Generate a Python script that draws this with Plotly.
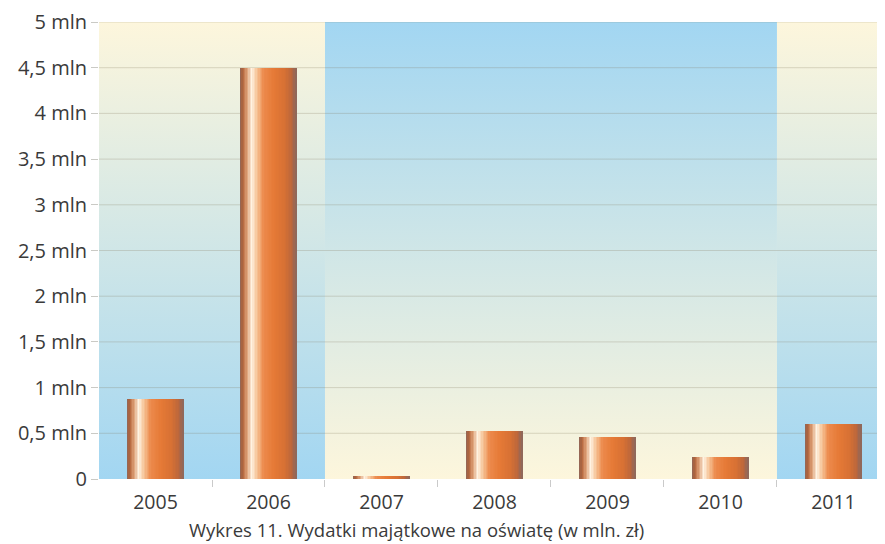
import plotly.graph_objects as go

# ---- data ----
years = ["2005", "2006", "2007", "2008", "2009", "2010", "2011"]
values = [0.875, 4.5, 0.035, 0.53, 0.455, 0.245, 0.60]   # mln zł
y_tick_vals = [0, 0.5, 1, 1.5, 2, 2.5, 3, 3.5, 4, 4.5, 5]
y_tick_text = ["0", "0,5 mln", "1 mln", "1,5 mln", "2 mln", "2,5 mln",
               "3 mln", "3,5 mln", "4 mln", "4,5 mln", "5 mln"]
caption = "Wykres 11. Wydatki majątkowe na oświatę (w mln. zł)"

# background bands: (first category, last category, style)
bands = [("2005", "2006", "up"), ("2007", "2010", "down"), ("2011", "2011", "up")]

# ---- style ----
FONT = "Open Sans"
TXT = "#3a3a3a"
GRID = "rgba(130,120,90,0.25)"
YELLOW = "#fdf6dc"
BLUE = "#a2d6f2"
BAR_W = 0.5
N_SLICES = 40
bar_stops = [
    (0.00, (140, 104, 92)),
    (0.05, (178, 98, 58)),
    (0.13, (222, 160, 118)),
    (0.21, (255, 244, 228)),
    (0.30, (246, 196, 152)),
    (0.42, (236, 138, 76)),
    (0.60, (230, 122, 54)),
    (0.80, (214, 112, 52)),
    (0.92, (186, 102, 60)),
    (1.00, (138, 104, 96)),
]


def grad_color(t):
    for (t0, c0), (t1, c1) in zip(bar_stops[:-1], bar_stops[1:]):
        if t0 <= t <= t1:
            f = (t - t0) / (t1 - t0) if t1 > t0 else 0
            c = [round(a + (b - a) * f) for a, b in zip(c0, c1)]
            return "rgb(%d,%d,%d)" % tuple(c)
    return "rgb(%d,%d,%d)" % bar_stops[-1][1]


xs = list(range(len(years)))
ymax = y_tick_vals[-1]

fig = go.Figure()

# background gradient bands
for first, last, kind in bands:
    x0 = years.index(first) - 0.5
    x1 = years.index(last) + 0.5
    if kind == "up":
        cs = [[0, BLUE], [1, YELLOW]]
    else:
        cs = [[0, YELLOW], [1, BLUE]]
    fig.add_trace(go.Scatter(
        x=[x0, x1, x1, x0, x0], y=[0, 0, ymax, ymax, 0],
        mode="lines", line=dict(width=0), fill="toself",
        fillgradient=dict(type="vertical", colorscale=cs, start=0, stop=ymax),
        hoverinfo="skip", showlegend=False))

# gridlines (drawn over backgrounds, below bars)
gx, gy = [], []
for v in y_tick_vals[1:]:
    gx += [-0.5, len(years) - 0.5, None]
    gy += [v, v, None]
fig.add_trace(go.Scatter(x=gx, y=gy, mode="lines", line=dict(color=GRID, width=1),
                         hoverinfo="skip", showlegend=False))

# bars as vertical slices to get a cylindrical shading
sw = BAR_W / N_SLICES
for i in range(N_SLICES):
    t = (i + 0.5) / N_SLICES
    fig.add_trace(go.Bar(
        x=xs, y=values, xaxis="x2", yaxis="y2",
        width=sw * 1.15, offset=-BAR_W / 2 + i * sw,
        marker=dict(color=grad_color(t), line=dict(width=0)),
        hoverinfo="skip", showlegend=False))

xr = [-0.5, len(years) - 0.544]
fig.update_layout(
    width=877, height=536,
    margin=dict(l=91, r=0, t=14, b=65),
    paper_bgcolor="white", plot_bgcolor="white",
    barmode="overlay", bargap=0,
    font=dict(family=FONT, size=18, color=TXT),
    xaxis=dict(range=xr, tickvals=xs, ticktext=years,
               ticks="outside", ticklen=6, tickcolor="rgba(0,0,0,0)",
               showgrid=False, zeroline=False, showline=False,
               tickfont=dict(size=19.5, color=TXT),
               minor=dict(tickvals=[i + 0.5 for i in xs[:-1]], ticks="outside",
                          ticklen=7, tickcolor="rgba(150,150,150,0.5)", showgrid=False)),
    yaxis=dict(range=[0, ymax], tickvals=y_tick_vals, ticktext=y_tick_text,
               ticks="outside", ticklen=7, tickcolor="rgba(150,150,140,0.5)",
               showgrid=False, zeroline=False, showline=False,
               tickfont=dict(size=20, color=TXT)),
    xaxis2=dict(range=xr, overlaying="x", visible=False),
    yaxis2=dict(range=[0, ymax], overlaying="y", visible=False),
    annotations=[dict(text=caption, xref="paper", yref="paper", x=0.404, y=0,
                      xanchor="center", yanchor="middle", yshift=-50,
                      showarrow=False, font=dict(size=18.5, color=TXT))],
)

fig.write_html("out.html")
